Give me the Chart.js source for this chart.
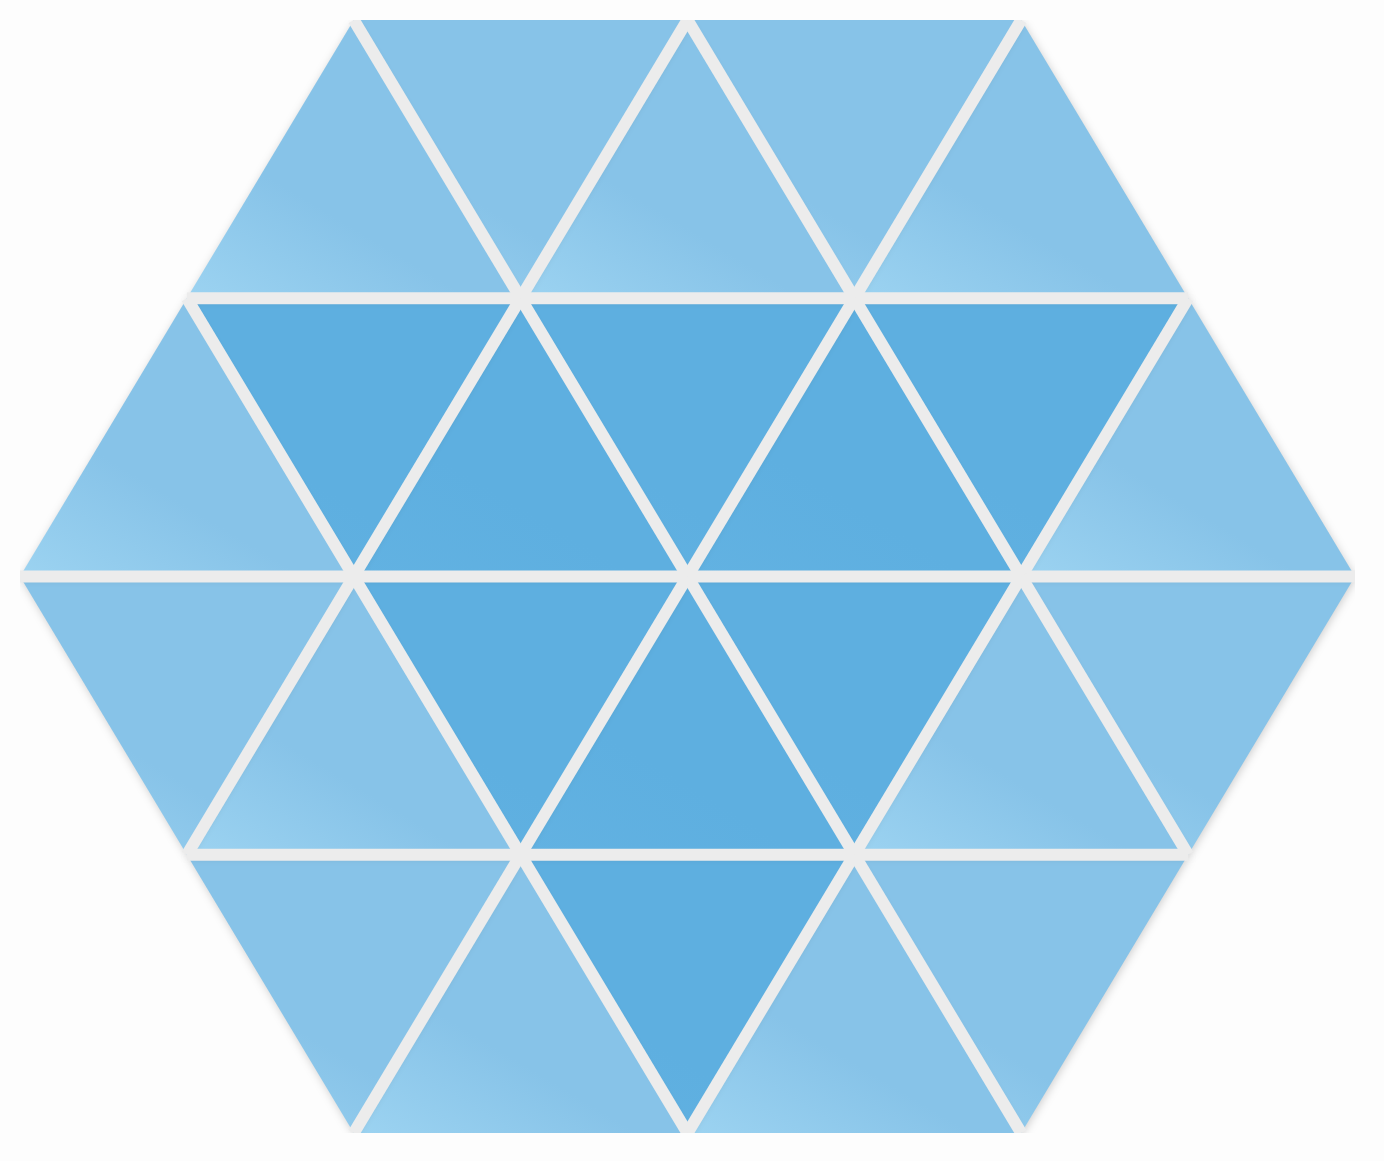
<!DOCTYPE html>
<html>
<head>
<meta charset="utf-8">
<script src="https://cdn.jsdelivr.net/npm/chart.js@4.4.0/dist/chart.umd.min.js"></script>
<style>
  html, body { margin: 0; padding: 0; background: #fdfdfd; }
  #wrap { width: 1384px; height: 1161px; }
</style>
</head>
<body>
<div id="wrap"><canvas id="hexChart"></canvas></div>
<script>
// Hexagon of triangles, one row at a time (top to bottom)
// 0 = light tile, 1 = dark tile
const rowShades = [
  [0, 0, 0, 0, 0],
  [0, 1, 1, 1, 1, 1, 0],
  [0, 0, 1, 1, 1, 0, 0],
  [0, 0, 1, 0, 0]
];
// first tile of each row points up?
const rowStartsUp = [true, true, false, false];
const shadeColors = ["#87c3e8", "#5eafe0"];
const shadeLight = ["#9cd3f1", "#62b2e2"];
const gapColor = "#ececec";

// left boundary of the hexagon (side = 1, rows are 1 unit tall)
function leftEdge(y) { return Math.abs(y - 2) / 2; }
function onBoundary(p) {
  return p.y === 0 || p.y === 4 || p.x === leftEdge(p.y) || p.x === 4 - leftEdge(p.y);
}

const tileSets = [];
const edgeSets = [];
const seenEdges = {};

rowShades.forEach((row, r) => {
  const start = Math.min(leftEdge(r), leftEdge(r + 1));
  row.forEach((shade, k) => {
    const L = start + k * 0.5;
    const up = (k % 2 === 0) === rowStartsUp[r];
    let pts;
    if (up) pts = [{ x: L + 0.5, y: r }, { x: L + 1, y: r + 1 }, { x: L, y: r + 1 }];
    else pts = [{ x: L, y: r }, { x: L + 1, y: r }, { x: L + 0.5, y: r + 1 }];
    pts.push({ ...pts[0] });

    tileSets.push({
      data: pts,
      shade: shade,
      showLine: true,
      fill: "shape",
      tension: 0,
      pointRadius: 0,
      borderWidth: 0,
      borderColor: "rgba(0,0,0,0)",
      backgroundColor: ctx => {
        const chart = ctx.chart;
        const ds = chart.data.datasets[ctx.datasetIndex];
        if (!chart.chartArea || !chart.scales.x) return shadeColors[ds.shade];
        const xs = ds.data.map(p => chart.scales.x.getPixelForValue(p.x));
        const ys = ds.data.map(p => chart.scales.y.getPixelForValue(p.y));
        const g = chart.ctx.createLinearGradient(Math.min(...xs), Math.max(...ys),
          Math.max(...xs) * 0.5 + Math.min(...xs) * 0.5, Math.min(...ys));
        g.addColorStop(0, shadeLight[ds.shade]);
        g.addColorStop(0.45, shadeColors[ds.shade]);
        g.addColorStop(1, shadeColors[ds.shade]);
        return g;
      }
    });

    // inner edges become the pale gaps between tiles
    for (let i = 0; i < 3; i++) {
      const a = pts[i], b = pts[i + 1];
      if (onBoundary(a) && onBoundary(b)) continue;
      const key = [a.x + "," + a.y, b.x + "," + b.y].sort().join("|");
      if (seenEdges[key]) continue;
      seenEdges[key] = true;
      edgeSets.push({
        data: [{ x: a.x, y: a.y }, { x: b.x, y: b.y }],
        showLine: true,
        fill: false,
        tension: 0,
        pointRadius: 0,
        borderWidth: 12,
        borderColor: gapColor
      });
    }
  });
});

// soft drop shadow under the tile fills only
const shadowPlugin = {
  id: "tileShadow",
  beforeDraw(chart) {
    const c = chart.ctx;
    c.save();
    c.shadowColor = "rgba(0,0,0,0.18)";
    c.shadowBlur = 9;
    c.shadowOffsetX = 1;
    c.shadowOffsetY = 2;
  },
  beforeDatasetDraw(chart) {
    chart.ctx.shadowColor = "rgba(0,0,0,0)";
  },
  afterDatasetsDraw(chart) {
    chart.ctx.restore();
  }
};

new Chart(document.getElementById("hexChart"), {
  type: "scatter",
  data: { datasets: edgeSets.concat(tileSets) },
  plugins: [shadowPlugin],
  options: {
    responsive: true,
    maintainAspectRatio: false,
    animation: false,
    layout: { padding: { left: 20, right: 29, top: 20, bottom: 28 } },
    scales: {
      x: { display: false, min: 0, max: 4 },
      y: { display: false, min: 0, max: 4, reverse: true }
    },
    plugins: {
      legend: { display: false },
      tooltip: { enabled: false },
      filler: { drawTime: "beforeDatasetsDraw" }
    }
  }
});
</script>
</body>
</html>
